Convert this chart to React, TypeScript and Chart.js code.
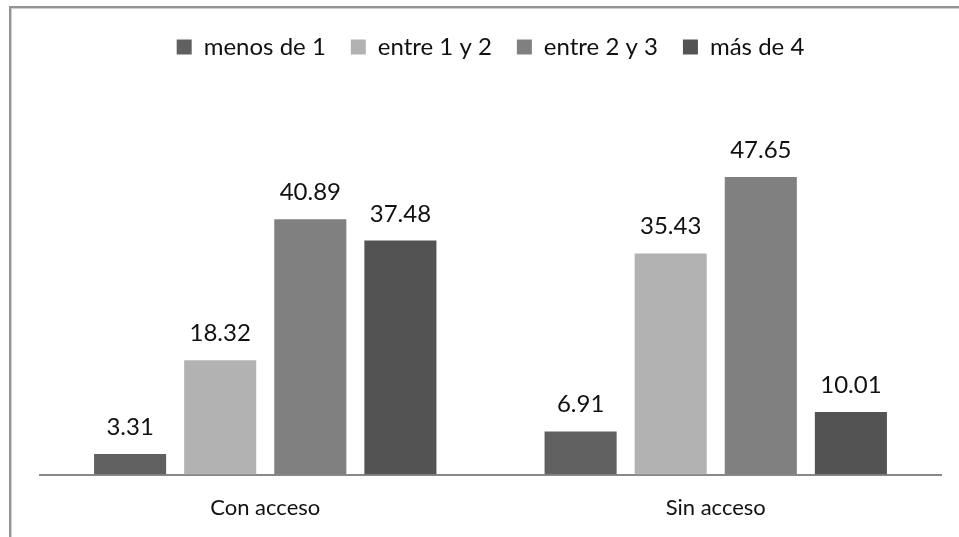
import React, { useEffect, useRef } from "react";
import { Chart, registerables } from "chart.js";

Chart.register(...registerables);

const categories = ["Con acceso", "Sin acceso"];
const seriesNames = ["menos de 1", "entre 1 y 2", "entre 2 y 3", "más de 4"];
const menosDe1 = [3.31, 6.91];
const entre1y2 = [18.32, 35.43];
const entre2y3 = [40.89, 47.65];
const masDe4 = [37.48, 10.01];
const seriesColors = ["#606060", "#b2b2b2", "#808080", "#535353"];

const FONT = "Lato, 'Open Sans', sans-serif";

// Writes each bar's value just above its top.
const valueLabels = {
  id: "valueLabels",
  afterDatasetsDraw(chart: any) {
    const ctx = chart.ctx;
    ctx.save();
    ctx.font = `24px ${FONT}`;
    ctx.fillStyle = "#111";
    ctx.textAlign = "center";
    ctx.textBaseline = "alphabetic";
    chart.data.datasets.forEach((ds: any, i: number) => {
      const meta = chart.getDatasetMeta(i);
      meta.data.forEach((bar: any, j: number) => {
        ctx.fillText(Number(ds.data[j]).toFixed(2), bar.x, bar.y - 19);
      });
    });
    ctx.restore();
  },
};

// Keeps the legend block a fixed height so the plot starts at the same place.
const legendHeight = {
  id: "legendHeight",
  beforeInit(chart: any) {
    const legend = chart.legend;
    if (!legend) return;
    const fit = legend.fit;
    legend.fit = function () {
      fit.call(this);
      this.height = 90;
    };
  },
};

export default function App() {
  const ref = useRef<HTMLCanvasElement>(null);

  useEffect(() => {
    if (!ref.current) return;
    const values = [menosDe1, entre1y2, entre2y3, masDe4];
    const chart = new Chart(ref.current, {
      type: "bar",
      data: {
        labels: categories,
        datasets: seriesNames.map((name, i) => ({
          label: name,
          data: values[i],
          backgroundColor: seriesColors[i],
          borderWidth: 0,
          barPercentage: 0.8,
          categoryPercentage: 0.8,
        })),
      },
      options: {
        responsive: false,
        animation: false,
        layout: { padding: { top: 10, left: 40, right: 18, bottom: -4 } },
        plugins: {
          legend: {
            position: "top",
            labels: {
              boxWidth: 15,
              boxHeight: 15,
              padding: 25,
              color: "#111",
              font: { family: FONT, size: 24 },
            },
          },
          tooltip: { enabled: false },
        },
        scales: {
          x: {
            grid: { display: false, drawTicks: false },
            border: { display: true, color: "#888", width: 2 },
            ticks: {
              padding: 20,
              color: "#111",
              font: { family: FONT, size: 22 },
            },
          },
          y: {
            display: false,
            min: 0,
            max: 60,
          },
        },
      },
      plugins: [legendHeight, valueLabels],
    });
    return () => chart.destroy();
  }, []);

  return (
    <div style={{ position: "fixed", left: 0, top: 0, width: 959, height: 537, background: "#fff", overflow: "hidden" }}>
      <div
        style={{
          position: "absolute",
          left: 9,
          top: 6,
          width: 980,
          height: 560,
          borderLeft: "2px solid #949494",
          borderTop: "2px solid #949494",
        }}
      />
      <div
        style={{
          position: "absolute",
          left: 11,
          top: 8,
          width: 980,
          height: 560,
          borderLeft: "1px solid #cfcfcf",
          borderTop: "1px solid #cfcfcf",
        }}
      />
      <canvas ref={ref} width={959} height={537} style={{ position: "absolute", left: 0, top: 0 }} />
    </div>
  );
}
